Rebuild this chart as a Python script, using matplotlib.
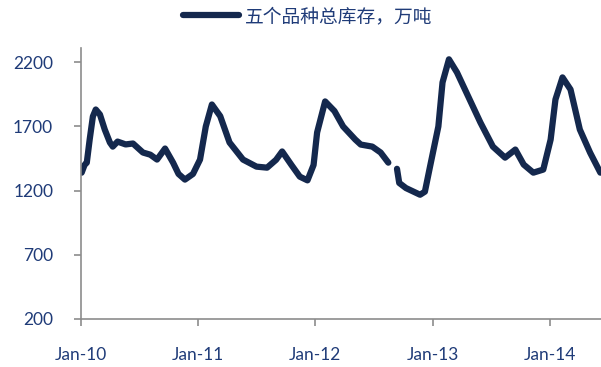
import numpy as np
import pandas as pd
import matplotlib.pyplot as plt
import matplotlib.dates as mdates

# 五个品种总库存（万吨），周度数据取样
dates = ['2010-01-03', '2010-01-12', '2010-01-19', '2010-01-28', '2010-02-07', '2010-02-16',
         '2010-03-01', '2010-03-16', '2010-04-01', '2010-04-10', '2010-04-25', '2010-05-20',
         '2010-06-12', '2010-07-13', '2010-08-05', '2010-08-26', '2010-09-20', '2010-10-15',
         '2010-11-01', '2010-11-21', '2010-12-16', '2011-01-07', '2011-01-25', '2011-02-13',
         '2011-03-11', '2011-04-09', '2011-05-21', '2011-07-02', '2011-08-04', '2011-09-01',
         '2011-09-20', '2011-10-19', '2011-11-14', '2011-12-08', '2011-12-27', '2012-01-07',
         '2012-02-01', '2012-03-01', '2012-03-28', '2012-05-05', '2012-05-22', '2012-06-27',
         '2012-07-23', '2012-08-16', '2012-08-30', '2012-09-12', '2012-09-19', '2012-10-10',
         '2012-11-23', '2012-12-08', '2012-12-24', '2013-01-19', '2013-02-01', '2013-02-21',
         '2013-03-18', '2013-04-22', '2013-05-30', '2013-07-08', '2013-08-15', '2013-09-16',
         '2013-10-12', '2013-11-11', '2013-12-12', '2014-01-04', '2014-01-19', '2014-02-10',
         '2014-03-07', '2014-04-05', '2014-05-07', '2014-06-08']
stock = [1340, 1400, 1418, 1598, 1778, 1832,
         1793, 1676, 1575, 1543, 1582, 1560,
         1567, 1497, 1480, 1442, 1528, 1418,
         1330, 1286, 1330, 1442, 1700, 1871,
         1780, 1575, 1442, 1387, 1379, 1440,
         1505, 1400, 1309, 1280, 1400, 1653,
         1895, 1820, 1700, 1598, 1559, 1543,
         1497, 1418, np.nan, 1370, 1260, 1220,
         1168, 1192, 1387, 1700, 2043, 2223,
         2121, 1934, 1731, 1543, 1457, 1520,
         1403, 1340, 1364, 1598, 1910, 2082,
         1988, 1676, 1496, 1340]

x = pd.to_datetime(dates)
navy = '#1f3b78'
plt.rcParams['font.family'] = ['Lato', 'Noto Sans CJK SC', 'DejaVu Sans']

fig = plt.figure(figsize=(6.01, 3.67), dpi=100)
ax = fig.add_axes([0.1348, 0.1308, 0.8652, 0.738])

ax.plot(x, stock, color='#14284d', linewidth=4.5, solid_capstyle='round',
        solid_joinstyle='round', label='五个品种总库存，万吨')

ax.set_ylim(200, 2310)
ax.set_yticks([200, 700, 1200, 1700, 2200])
ax.set_xlim(pd.Timestamp('2010-01-01'), pd.Timestamp('2014-06-10'))
ax.xaxis.set_major_locator(mdates.YearLocator())
ax.xaxis.set_major_formatter(mdates.DateFormatter('%b-%y'))

for s in ['top', 'right']:
    ax.spines[s].set_visible(False)
for s in ['left', 'bottom']:
    ax.spines[s].set_color('#8c8c8c')
    ax.spines[s].set_linewidth(1.2)
ax.tick_params(axis='both', colors='#8c8c8c', labelcolor=navy, labelsize=12.5,
               length=5, width=1.2, pad=15)

# 图例放在图表上方
leg = fig.legend(loc='center', bbox_to_anchor=(0.512, 0.955), frameon=False,
                 handlelength=3.0, handletextpad=0.3,
                 prop={'family': ['Noto Sans CJK SC'], 'size': 13.5})
for t in leg.get_texts():
    t.set_color(navy)

plt.savefig('out.png', dpi=100)
